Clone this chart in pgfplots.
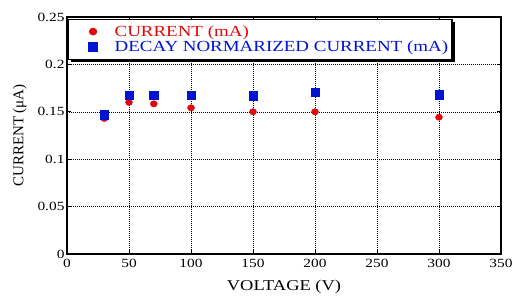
\documentclass[border=0pt]{standalone}
\usepackage{fontspec}
\setmainfont{Liberation Serif}[FakeStretch=1.23]
\newfontfamily\plainserif{Liberation Serif}
\usepackage{pgfplots}
\pgfplotsset{compat=1.18}
\usetikzlibrary{shadows}
\definecolor{myred}{RGB}{225,10,10}
\definecolor{myblue}{RGB}{0,20,210}
\begin{document}
\begin{tikzpicture}
\begin{axis}[
  name=ax,
  scale only axis,
  width=434pt, height=237pt,
  xmin=0, xmax=350, ymin=0, ymax=0.25,
  xtick={0,50,...,350},
  ytick={0,0.05,0.1,0.15,0.2,0.25},
  yticklabels={0,0.05,0.1,0.15,0.2,0.25},
  /pgf/number format/assume math mode=true,
  ticklabel style={font=\fontsize{12.5}{14}\selectfont},
  yticklabel style={xshift=1pt},
  xticklabel style={yshift=-1.5pt},
  grid=major,
  grid style={black, dash pattern=on 1pt off 1pt, line width=0.6pt},
  axis line style={black, line width=1.3pt},
  tick style={black, line width=0.8pt},
  major tick length=4pt,
  tick align=inside,
  xlabel={VOLTAGE (V)},
  ylabel={\plainserif CURRENT (μA)},
  label style={font=\fontsize{15}{17}\selectfont},
  xlabel style={yshift=-6pt},
  ylabel style={yshift=4pt},
  legend style={at={(rel axis cs:0.002,0.992)}, anchor=north west, draw=black, line width=1.2pt,
    drop shadow={shadow xshift=2.5pt, shadow yshift=-2.5pt, fill=black, opacity=1},
    fill=white, font=\fontsize{15.4}{16}\selectfont, inner xsep=4pt, inner ysep=5.5pt,
    row sep=2.5pt, column sep=0pt,
    nodes={inner xsep=0pt, inner ysep=0.5pt}},
  legend cell align=left,
  legend image code/.code={\draw[#1] plot coordinates {(0pt,0pt)}; \path (-20pt,0pt) (21pt,0pt);},
]
\addplot[only marks, mark=*, mark size=3.2pt, color=myred, mark options={draw=myred, fill=myred, xscale=1.1}]
coordinates {(30,0.143) (50,0.160) (70,0.1584) (100,0.1542) (150,0.150) (200,0.150) (300,0.1443)};
\addlegendentry{\textcolor{myred}{CURRENT (mA)}}
\addplot[only marks, mark=square*, mark size=4.2pt, color=myblue, mark options={draw=myblue, fill=myblue}]
coordinates {(30,0.1469) (50,0.1678) (70,0.1678) (100,0.1678) (150,0.1668) (200,0.1705) (300,0.168)};
\addlegendentry{\textcolor{myblue}{DECAY NORMARIZED CURRENT (mA)}}
\end{axis}
\pgfresetboundingbox
\path ([shift={(-67pt,-41pt)}]ax.south west) rectangle ([shift={(12pt,17pt)}]ax.north east);
\end{tikzpicture}
\end{document}
